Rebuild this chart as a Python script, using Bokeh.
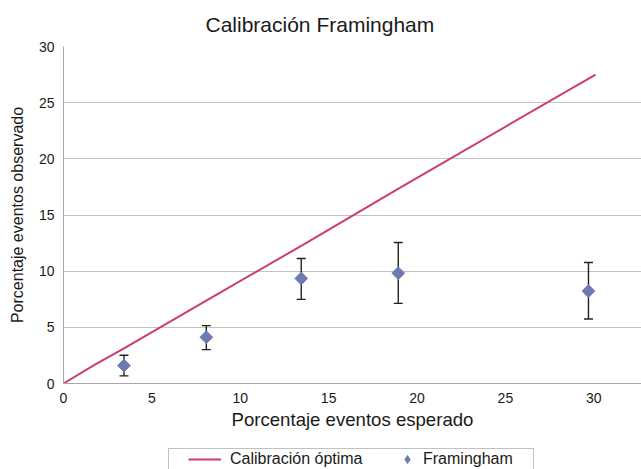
import math
from bokeh.plotting import figure
from bokeh.layouts import column
from bokeh.models import (ColumnDataSource, Range1d, Whisker, TeeHead, Legend,
                          LegendItem, FixedTicker, BoxAnnotation)
from bokeh.embed import file_html
from bokeh.resources import INLINE

# Calibration line (expected vs. optimal observed)
line_x = [0, 1.8, 3.4, 8.1, 13.5, 19.0, 30.1]
line_y = [0, 1.7, 3.1, 7.4, 12.3, 17.4, 27.5]

# Framingham points with error bars
exp_x = [3.42, 8.08, 13.45, 18.94, 29.7]
obs_y = [1.6, 4.12, 9.35, 9.82, 8.23]
obs_lo = [0.68, 3.02, 7.49, 7.13, 5.74]
obs_hi = [2.52, 5.15, 11.13, 12.55, 10.77]

x_ticks = [0, 5, 10, 15, 20, 25, 30]
y_ticks = [0, 5, 10, 15, 20, 25, 30]

series_names = ["Calibración óptima", "Framingham"]

FONT = "Liberation Sans"
LINE_COLOR = "#CC3B78"
PT_COLOR = "#6E7BB3"
TXT = "#1a1a1a"

p = figure(width=641, height=440, output_backend="svg", toolbar_location=None,
           x_range=Range1d(0, 32.7), y_range=Range1d(0, 30),
           min_border_left=63, min_border_right=0, min_border_top=45,
           min_border_bottom=57)

p.title.text = "Calibración Framingham"
p.title.align = "left"
p.title.offset = 142
p.title.standoff = 21
p.title.text_font = FONT
p.title.text_font_size = "21px"
p.title.text_font_style = "normal"
p.title.text_color = TXT

p.outline_line_color = None
p.xgrid.grid_line_color = None
p.ygrid.grid_line_color = "#C4C4C4"
p.ygrid.grid_line_width = 1

for ax in (p.xaxis[0], p.yaxis[0]):
    ax.axis_line_color = "#A8A8A8"
    ax.major_tick_line_color = None
    ax.minor_tick_line_color = None
    ax.major_tick_out = 0
    ax.major_tick_in = 0
    ax.minor_tick_out = 0
    ax.minor_tick_in = 0
    ax.major_label_text_font = FONT
    ax.major_label_text_font_size = "14px"
    ax.major_label_text_color = TXT
    ax.axis_label_text_font = FONT
    ax.axis_label_text_font_style = "normal"
    ax.axis_label_text_color = TXT

p.xaxis.axis_label_text_font_size = "18.6px"
p.yaxis.axis_label_text_font_size = "16px"
p.xaxis.ticker = FixedTicker(ticks=x_ticks)
p.yaxis.ticker = FixedTicker(ticks=y_ticks)
p.xaxis.axis_label = "Porcentaje eventos esperado"
p.yaxis.axis_label = "Porcentaje eventos observado"
p.xaxis.major_label_standoff = 9
p.yaxis.major_label_standoff = 9
p.xaxis.axis_label_standoff = 3
p.yaxis.axis_label_standoff = 10

p.line(line_x, line_y, line_color=LINE_COLOR, line_width=2)

src = ColumnDataSource(dict(x=exp_x, y=obs_y, lo=obs_lo, hi=obs_hi))
wh = Whisker(source=src, base="x", lower="lo", upper="hi",
             line_color="#222222", line_width=1.4,
             upper_head=TeeHead(size=9, line_color="#222222", line_width=1.4),
             lower_head=TeeHead(size=9, line_color="#222222", line_width=1.4))
p.add_layout(wh)

p.scatter("x", "y", source=src, marker="square", angle=math.pi / 4, size=9,
          fill_color=PT_COLOR, line_color=PT_COLOR)

# ---- legend strip (separate small figure under the chart) ----
# its plot frame is aligned with the chart's frame (left edge at 63 px)
lg = figure(width=641, height=29, output_backend="svg", toolbar_location=None,
            x_range=Range1d(63, 641), y_range=Range1d(0, 29),
            x_axis_type=None, y_axis_type=None,
            min_border_left=63, min_border_right=0, min_border_top=0,
            min_border_bottom=0)
lg.outline_line_color = None
lg.xgrid.visible = False
lg.ygrid.visible = False

lg.add_layout(BoxAnnotation(left=168, right=533, top=21, bottom=-10,
                            fill_color="white", fill_alpha=1.0,
                            line_color="#333333", line_width=1))

# legend proxies carry the same series (they fall outside this strip's view)
proxy_line = lg.line(line_x, line_y, line_color=LINE_COLOR, line_width=2)
proxy_pt = lg.scatter(exp_x, obs_y, marker="diamond", size=9,
                      fill_color=PT_COLOR, line_color=PT_COLOR)

common = dict(orientation="horizontal", border_line_color=None,
              background_fill_alpha=0, label_text_font=FONT,
              label_text_font_size="16px", label_text_color=TXT,
              padding=0, margin=0, glyph_height=20, label_height=20)
lg.add_layout(Legend(items=[LegendItem(label=series_names[0], renderers=[proxy_line])],
                     location=(125, 0), glyph_width=33, label_standoff=9, **common))
lg.add_layout(Legend(items=[LegendItem(label=series_names[1], renderers=[proxy_pt])],
                     location=(334, 0), glyph_width=20, label_standoff=6, **common))

layout = column(p, lg, spacing=0)
open("out.html", "w").write(file_html(layout, INLINE))
